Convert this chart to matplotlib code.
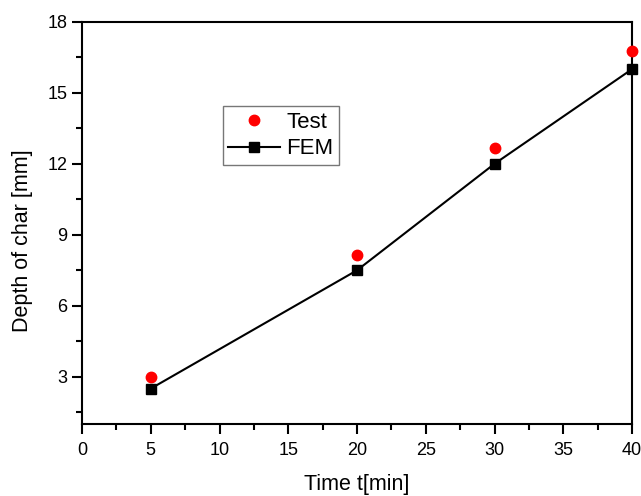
import matplotlib
matplotlib.use("Agg")
import matplotlib.pyplot as plt
from matplotlib.ticker import MultipleLocator

plt.rcParams['font.family'] = ['Liberation Sans', 'DejaVu Sans']

time_test = [5, 20, 30, 40]
depth_test = [3.0, 8.15, 12.65, 16.78]
time_fem = [5, 20, 30, 40]
depth_fem = [2.5, 7.5, 12.0, 16.0]

fig = plt.figure(figsize=(6.41, 4.96), dpi=100)
ax = fig.add_axes([0.128, 0.145, 0.858, 0.811])

ax.plot(time_test, depth_test, 'o', color='#ff0000', markersize=7.5, label='Test',
        clip_on=False, zorder=3)
ax.plot(time_fem, depth_fem, '-s', color='black', markersize=6.5, linewidth=1.5,
        label='FEM', clip_on=False, zorder=4)

ax.set_xlim(0, 40)
ax.set_ylim(1, 18)
ax.xaxis.set_major_locator(MultipleLocator(5))
ax.xaxis.set_minor_locator(MultipleLocator(2.5))
ax.set_yticks([3, 6, 9, 12, 15, 18])
ax.yaxis.set_minor_locator(MultipleLocator(1.5))

for s in ax.spines.values():
    s.set_linewidth(1.5)

ax.tick_params(which='major', direction='out', length=7, width=1.5,
               labelsize=13, bottom=True, left=True, top=False, right=False)
ax.tick_params(which='minor', direction='out', length=4, width=1.5,
               bottom=True, left=True, top=False, right=False)
ax.tick_params(axis='x', pad=6)

ax.set_xlabel('Time t[min]', fontsize=15.5, labelpad=11)
ax.set_ylabel('Depth of char [mm]', fontsize=15.5)
ax.yaxis.set_label_coords(-0.089, 0.455)

leg = ax.legend(loc='upper left', bbox_to_anchor=(0.256, 0.79), fontsize=16,
                frameon=True, fancybox=False, edgecolor='#555555',
                handlelength=2.3, handletextpad=0.3, borderpad=0.25,
                labelspacing=0.25, borderaxespad=0, markerfirst=True)
leg.get_frame().set_linewidth(1.0)

fig.savefig('out.png', dpi=100)
